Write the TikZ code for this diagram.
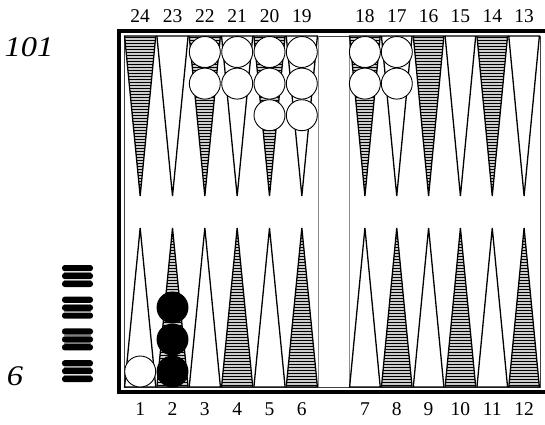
\documentclass[tikz,border=0pt]{standalone}
\usepackage{fontspec}
\setmainfont{Liberation Serif}
\usetikzlibrary{positioning}

\tikzset{
  pt/.style={draw=black,line width=1.3pt,line join=miter},
  chk/.style={circle,draw=black,line width=0.9pt,minimum size=31pt,inner sep=0pt},
  wchk/.style={chk,fill=white},
  bchk/.style={chk,fill=black},
  lbl/.style={font=\fontsize{19.5}{19.5}\selectfont,inner sep=0pt,anchor=base},
  pip/.style={font=\itshape\fontsize{28.5}{28.5}\selectfont,inner sep=0pt,anchor=base}
}
\newcommand{\wide}[1]{\scalebox{1.14}[1]{#1}}

\begin{document}
\begin{tikzpicture}[x=1pt,y=-1pt]
  \useasboundingbox (0,0) rectangle (545,424);
  % frame
  \draw[line width=4pt] (119,394) -- (119,31) -- (545,31);
  \draw[line width=4pt] (117,392) -- (545,392);
  \draw[black!75,line width=0.8pt] (124,36) rectangle (540,387);
  \draw[black!45,line width=0.8pt] (318,36) -- (318,387);
  \draw[black!45,line width=0.8pt] (349,36) -- (349,387);

  % points and their numbers
  \foreach \i in {0,...,11}{
    \pgfmathsetmacro{\cx}{\i<6 ? 124+32.333*(\i+0.5) : 349+31.833*(\i-5.5)}
    \pgfmathsetmacro{\hw}{\i<6 ? 15.6 : 15.3}
    \pgfmathtruncatemacro{\nb}{\i+1}
    \pgfmathtruncatemacro{\nt}{24-\i}
    % top row
    \ifodd\nt\relax
      \draw[pt,fill=white] (\cx-\hw,36) -- (\cx,196) -- (\cx+\hw,36) -- cycle;
    \else
      \begin{scope}
        \clip (\cx-\hw,36) -- (\cx,196) -- (\cx+\hw,36) -- cycle;
        \fill[gray!40] (\cx-\hw,36) rectangle (\cx+\hw,196);
        \foreach \k in {0,...,54}
          \draw[line width=0.9pt] (\cx-\hw,37.5+3*\k) -- (\cx+\hw,37.5+3*\k);
      \end{scope}
      \draw[pt] (\cx-\hw,36) -- (\cx,196) -- (\cx+\hw,36) -- cycle;
    \fi
    % bottom row
    \ifodd\nb\relax
      \draw[pt,fill=white] (\cx-\hw,387) -- (\cx,228) -- (\cx+\hw,387) -- cycle;
    \else
      \begin{scope}
        \clip (\cx-\hw,387) -- (\cx,228) -- (\cx+\hw,387) -- cycle;
        \fill[gray!40] (\cx-\hw,228) rectangle (\cx+\hw,387);
        \foreach \k in {0,...,54}
          \draw[line width=0.9pt] (\cx-\hw,385.5-3*\k) -- (\cx+\hw,385.5-3*\k);
      \end{scope}
      \draw[pt] (\cx-\hw,387) -- (\cx,228) -- (\cx+\hw,387) -- cycle;
    \fi
    \node[lbl] (top\nt) at (\cx,22.5) {\nt};
    \node[lbl] (bot\nb) at (\cx,415) {\nb};
  }

  % checkers on the upper side
  \foreach \x/\n/\m in {204.8/22/2, 237.2/21/2, 269.5/20/3, 301.8/19/3, 364.9/18/2, 396.8/17/2}
    \foreach \r in {1,...,\m}
      \node[wchk] (w\n-\r) at (\x,{52+31.6*(\r-1)}) {};

  % checkers on the lower side
  \node[wchk] (w1-1) at (140.2,371.5) {};
  \foreach \r in {1,2,3}
    \node[bchk] (b2-\r) at (172.5,{371.5-32*(\r-1)}) {};

  % pip counts
  \node[pip] (pipw) at (29,56) {\wide{101}};
  \node[pip] (pipb) at (15,385) {\wide{6}};

  % borne off
  \foreach \g in {0,...,3}{
    \foreach \b in {0,1,2}
      \fill[rounded corners=2.8pt] (62,265+31.7*\g+7.9*\b) rectangle (93,271.2+31.7*\g+7.9*\b);
    \foreach \b in {0,1}
      \draw[gray,line width=0.8pt] (64,272.2+31.7*\g+7.9*\b) -- (91,272.2+31.7*\g+7.9*\b);
  }
\end{tikzpicture}
\end{document}
